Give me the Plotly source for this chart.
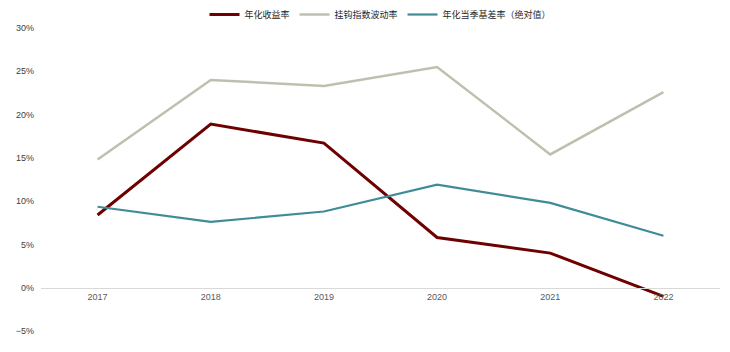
import plotly.graph_objects as go

years = ["2017", "2018", "2019", "2020", "2021", "2022"]
ann_return = [8.4, 18.9, 16.7, 5.8, 4.0, -1.0]
index_vol = [14.8, 24.0, 23.3, 25.5, 15.4, 22.6]
basis = [9.35, 7.6, 8.8, 11.9, 9.8, 6.0]

names = ["年化收益率", "挂钩指数波动率", "年化当季基差率（绝对值）"]
colors = ["#6E0000", "#C0BFAF", "#3F8C98"]
widths = [3, 2.5, 2.2]

fig = go.Figure()
for vals, n, c, w in zip([ann_return, index_vol, basis], names, colors, widths):
    fig.add_trace(go.Scatter(x=years, y=[v / 100 for v in vals], mode="lines", name=n,
                             line=dict(color=c, width=w)))

fig.update_layout(
    width=730, height=352,
    margin=dict(l=41, r=10, t=28, b=21, autoexpand=False),
    paper_bgcolor="white", plot_bgcolor="white",
    font=dict(family="Liberation Sans, Noto Sans CJK SC", size=9, color="#404040"),
    legend=dict(orientation="h", x=0.5, xanchor="center", y=1.0, yanchor="top",
                yref="container",
                font=dict(family="Noto Sans CJK SC, Liberation Sans", size=9, color="#262626"),
                itemwidth=30, tracegroupgap=0),
    showlegend=True,
)
fig.update_xaxes(type="category", range=[-0.5, 5.5], anchor="free", position=5 / 35,
                 showline=True, linecolor="#D9D9D9", linewidth=1, showgrid=False,
                 ticks="", tickfont=dict(size=9, color="#595959"), zeroline=False)
fig.update_yaxes(range=[-0.05, 0.30], dtick=0.05, tickformat=".0%", showgrid=False,
                 zeroline=False, showline=False, ticks="", ticklabelstandoff=6,
                 tickfont=dict(size=9, color="#404040"))

fig.write_html("out.html")
